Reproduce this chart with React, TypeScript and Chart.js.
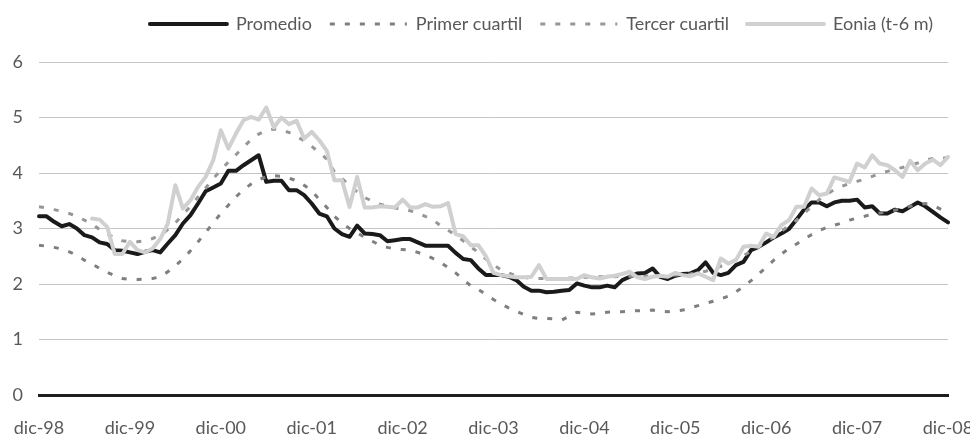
import React, { useEffect, useRef } from 'react';
import { Chart, registerables } from 'chart.js';

Chart.register(...registerables);

// Category axis: monthly, dic-98 .. dic-08
const MONTHS = ['ene', 'feb', 'mar', 'abr', 'may', 'jun', 'jul', 'ago', 'sep', 'oct', 'nov', 'dic'];
const LABELS: string[] = Array.from({ length: 121 }, (_, i) => {
  const m = (11 + i) % 12;
  const y = 1998 + Math.floor((11 + i) / 12);
  return `${MONTHS[m]}-${String(y % 100).padStart(2, '0')}`;
});

const PROMEDIO = [
  3.22, 3.22, 3.12, 3.04, 3.08, 3.00, 2.88, 2.84, 2.75, 2.72, 2.61, 2.60,
  2.57, 2.54, 2.58, 2.61, 2.57, 2.73, 2.88, 3.09, 3.24, 3.45, 3.67, 3.74,
  3.81, 4.04, 4.04, 4.14, 4.23, 4.32, 3.84, 3.86, 3.86, 3.69, 3.69, 3.60,
  3.45, 3.27, 3.22, 3.00, 2.90, 2.85, 3.05, 2.91, 2.90, 2.88, 2.77, 2.79,
  2.81, 2.81, 2.75, 2.69, 2.69, 2.69, 2.69, 2.56, 2.45, 2.43, 2.28, 2.16,
  2.16, 2.16, 2.13, 2.07, 1.95, 1.88, 1.88, 1.85, 1.86, 1.88, 1.89, 2.01,
  1.97, 1.94, 1.94, 1.97, 1.94, 2.07, 2.13, 2.19, 2.20, 2.28, 2.13, 2.09,
  2.15, 2.18, 2.19, 2.25, 2.39, 2.20, 2.16, 2.20, 2.34, 2.40, 2.61, 2.67,
  2.75, 2.84, 2.91, 2.99, 3.16, 3.34, 3.47, 3.47, 3.40, 3.47, 3.50, 3.50,
  3.52, 3.38, 3.40, 3.27, 3.27, 3.34, 3.31, 3.39, 3.47, 3.40, 3.30, 3.20,
  3.11,
];

const PRIMER_CUARTIL = [
  2.70, 2.68, 2.66, 2.63, 2.58, 2.52, 2.43, 2.36, 2.28, 2.21, 2.15, 2.10,
  2.08, 2.08, 2.09, 2.10, 2.13, 2.22, 2.33, 2.45, 2.60, 2.76, 2.93, 3.10,
  3.27, 3.42, 3.57, 3.70, 3.80, 3.88, 3.93, 3.95, 3.94, 3.91, 3.86, 3.78,
  3.68, 3.52, 3.38, 3.22, 3.10, 3.00, 2.92, 2.84, 2.77, 2.70, 2.66, 2.63,
  2.62, 2.61, 2.57, 2.52, 2.46, 2.39, 2.30, 2.20, 2.08, 1.97, 1.90, 1.81,
  1.72, 1.64, 1.57, 1.51, 1.45, 1.40, 1.38, 1.38, 1.37, 1.35, 1.42, 1.49,
  1.47, 1.46, 1.47, 1.49, 1.50, 1.50, 1.51, 1.52, 1.52, 1.53, 1.51, 1.50,
  1.51, 1.53, 1.57, 1.61, 1.65, 1.69, 1.73, 1.78, 1.86, 1.95, 2.06, 2.18,
  2.30, 2.43, 2.54, 2.64, 2.72, 2.81, 2.89, 2.96, 3.02, 3.06, 3.10, 3.15,
  3.19, 3.22, 3.26, 3.28, 3.30, 3.33, 3.36, 3.40, 3.43, 3.45, 3.42, 3.35,
  3.28,
];

const TERCER_CUARTIL = [
  3.39, 3.37, 3.34, 3.31, 3.27, 3.22, 3.15, 3.08, 2.98, 2.90, 2.83, 2.78,
  2.76, 2.76, 2.78, 2.82, 2.88, 2.98, 3.10, 3.25, 3.40, 3.57, 3.73, 3.90,
  4.05, 4.20, 4.33, 4.47, 4.60, 4.70, 4.77, 4.79, 4.78, 4.73, 4.66, 4.58,
  4.48, 4.37, 4.25, 4.02, 3.90, 3.78, 3.66, 3.56, 3.49, 3.44, 3.40, 3.37,
  3.35, 3.32, 3.28, 3.22, 3.16, 3.05, 2.97, 2.88, 2.78, 2.67, 2.57, 2.45,
  2.35, 2.25, 2.20, 2.15, 2.12, 2.10, 2.10, 2.10, 2.10, 2.10, 2.11, 2.11,
  2.12, 2.12, 2.13, 2.13, 2.13, 2.14, 2.14, 2.14, 2.14, 2.15, 2.15, 2.15,
  2.16, 2.17, 2.18, 2.20, 2.23, 2.27, 2.32, 2.37, 2.44, 2.51, 2.59, 2.67,
  2.76, 2.85, 2.95, 3.05, 3.15, 3.27, 3.40, 3.52, 3.62, 3.70, 3.76, 3.81,
  3.85, 3.89, 3.94, 3.99, 4.03, 4.07, 4.10, 4.14, 4.18, 4.23, 4.26, 4.27,
  4.27,
];

const EONIA_T6 = [
  null, null, null, null, null, null, null, 3.18, 3.16, 3.03, 2.54, 2.54,
  2.76, 2.61, 2.57, 2.64, 2.81, 3.09, 3.78, 3.36, 3.51, 3.75, 3.93, 4.23,
  4.77, 4.44, 4.71, 4.95, 5.01, 4.96, 5.18, 4.82, 5.00, 4.88, 4.94, 4.62,
  4.74, 4.59, 4.40, 3.87, 3.87, 3.39, 3.93, 3.38, 3.38, 3.40, 3.39, 3.38,
  3.52, 3.38, 3.38, 3.44, 3.39, 3.40, 3.46, 2.90, 2.86, 2.70, 2.70, 2.50,
  2.20, 2.16, 2.14, 2.12, 2.12, 2.13, 2.34, 2.09, 2.09, 2.09, 2.09, 2.09,
  2.16, 2.12, 2.10, 2.13, 2.15, 2.18, 2.22, 2.12, 2.09, 2.13, 2.15, 2.13,
  2.20, 2.16, 2.14, 2.19, 2.13, 2.07, 2.46, 2.37, 2.43, 2.67, 2.69, 2.67,
  2.91, 2.85, 3.06, 3.15, 3.39, 3.39, 3.72, 3.60, 3.63, 3.92, 3.88, 3.84,
  4.17, 4.10, 4.32, 4.17, 4.14, 4.05, 3.93, 4.22, 4.05, 4.17, 4.24, 4.14,
  4.29,
];

const Y_MIN = 0;
const Y_MAX = 6;

const FONT = { family: 'Lato', size: 18 };
const TEXT_COLOR = '#595959';

export default function App() {
  const canvasRef = useRef<HTMLCanvasElement | null>(null);

  useEffect(() => {
    const canvas = canvasRef.current;
    if (!canvas) return;

    const legendSpacer = {
      id: 'legendSpacer',
      beforeInit(chart: any) {
        const legend = chart.legend;
        if (!legend) return;
        const origFit = legend.fit;
        legend.fit = function fit() {
          origFit.call(this);
          this.height += 19;
        };
      },
    };

    const chart = new Chart(canvas, {
      type: 'line',
      data: {
        labels: LABELS,
        datasets: [
          {
            label: 'Promedio',
            data: PROMEDIO,
            borderColor: '#1a1a1a',
            backgroundColor: '#1a1a1a',
            borderWidth: 4,
            borderJoinStyle: 'round',
            borderCapStyle: 'round',
            pointRadius: 0,
            order: 4,
          },
          {
            label: 'Primer cuartil',
            data: PRIMER_CUARTIL,
            borderColor: '#7f7f7f',
            backgroundColor: '#7f7f7f',
            borderWidth: 3,
            borderDash: [5, 10],
            pointRadius: 0,
            order: 3,
          },
          {
            label: 'Tercer cuartil',
            data: TERCER_CUARTIL,
            borderColor: '#969696',
            backgroundColor: '#969696',
            borderWidth: 3,
            borderDash: [5, 10],
            pointRadius: 0,
            order: 2,
          },
          {
            label: 'Eonia (t-6 m)',
            data: EONIA_T6 as any,
            borderColor: '#d0d0d0',
            backgroundColor: '#d0d0d0',
            borderWidth: 4,
            borderJoinStyle: 'round',
            borderCapStyle: 'round',
            pointRadius: 0,
            order: 1,
          },
        ],
      },
      options: {
        responsive: false,
        animation: false,
        events: [],
        layout: { padding: { top: 0, right: 19, bottom: 0, left: 0 } },
        plugins: {
          tooltip: { enabled: false },
          legend: {
            display: true,
            position: 'top',
            align: 'end',
            labels: {
              font: FONT,
              color: TEXT_COLOR,
              usePointStyle: true,
              pointStyle: 'line',
              pointStyleWidth: 77,
              padding: 18,
              generateLabels: (c: any) =>
                c.data.datasets.map((ds: any, i: number) => ({
                  text: ds.label,
                  fillStyle: ds.borderColor,
                  strokeStyle: ds.borderColor,
                  lineWidth: ds.borderWidth,
                  lineDash: ds.borderDash || [],
                  lineCap: ds.borderDash ? 'butt' : 'round',
                  pointStyle: 'line',
                  hidden: false,
                  datasetIndex: i,
                  fontColor: TEXT_COLOR,
                })),
            },
          },
        },
        scales: {
          x: {
            type: 'category',
            grid: { display: false, drawTicks: false },
            border: { display: true, color: '#1e1e1e', width: 3 },
            ticks: {
              autoSkip: false,
              maxRotation: 0,
              minRotation: 0,
              padding: 22,
              font: FONT,
              color: TEXT_COLOR,
              callback: (_v: any, index: number) => (index % 12 === 0 ? LABELS[index] : null),
            },
            afterFit: (scale: any) => {
              scale.paddingLeft = 0;
              scale.paddingRight = 22;
              scale.height = 41;
            },
          },
          y: {
            min: Y_MIN,
            max: Y_MAX,
            grid: { color: '#c4c4c4', lineWidth: 1, drawTicks: false },
            border: { display: false },
            ticks: {
              stepSize: 1,
              padding: 16,
              font: FONT,
              color: TEXT_COLOR,
            },
            afterFit: (scale: any) => {
              scale.width = 39;
            },
          },
        },
      },
      plugins: [legendSpacer],
    } as any);

    return () => chart.destroy();
  }, []);

  return (
    <div
      style={{
        position: 'fixed',
        left: 0,
        top: 0,
        width: 970,
        height: 436,
        overflow: 'hidden',
        background: '#ffffff',
      }}
    >
      <canvas
        ref={canvasRef}
        width={970}
        height={439}
        style={{ position: 'absolute', left: 0, top: -3, width: 970, height: 439, display: 'block' }}
      />
    </div>
  );
}
